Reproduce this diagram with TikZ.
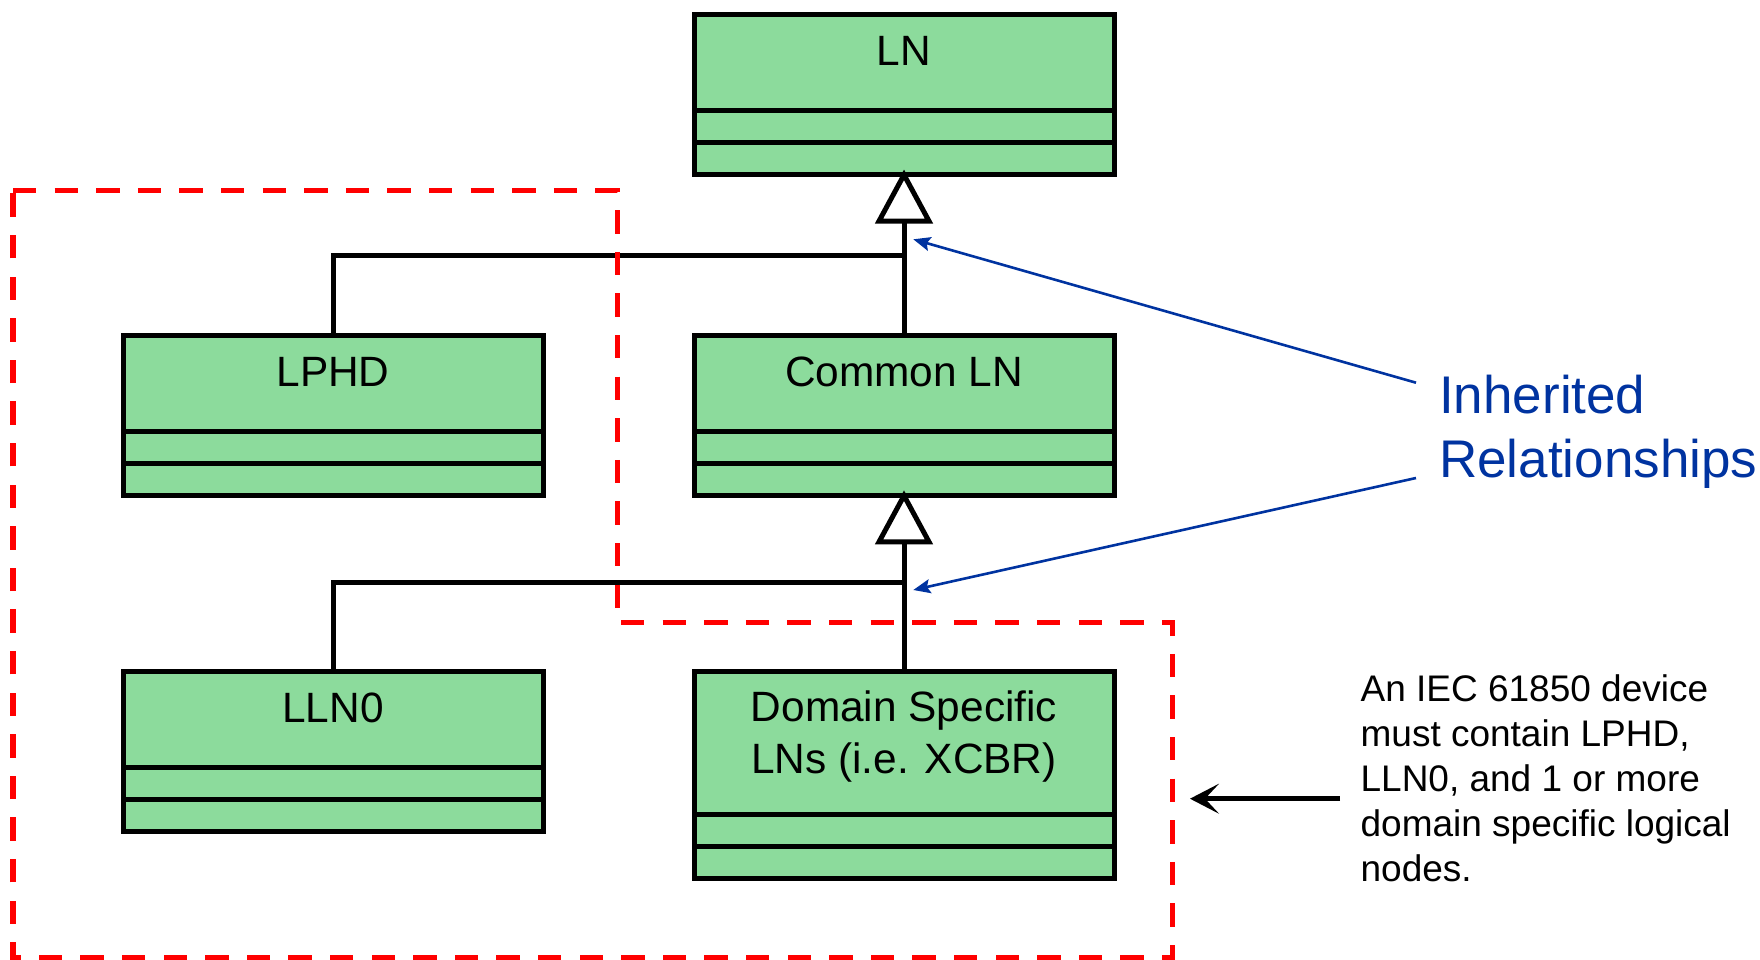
\documentclass[tikz,border=0pt]{standalone}
\usepackage{fontspec}
\setmainfont{Liberation Sans}
\usetikzlibrary{arrows.meta,calc}
\definecolor{clsgreen}{HTML}{8CDB9C}
\definecolor{irblue}{HTML}{0033A0}
\definecolor{dashred}{HTML}{FF0000}
\tikzset{
  clsbox/.style={draw=black, fill=clsgreen, line width=5pt, minimum width=420pt,
    inner sep=0pt, outer sep=0pt, anchor=north},
  divider/.style={line width=5pt},
  clstitle/.style={font=\fontsize{42.4}{52}\selectfont, align=center, inner sep=0pt},
  inherit/.style={line width=5pt, shorten >=-5pt,
    -{Triangle[open, length=54pt, width=57pt]}},
  branch/.style={line width=5pt, line join=miter},
  pointer/.style={draw=irblue, line width=2.6pt,
    -{Stealth[length=17pt, width=14pt, inset=3pt]}},
  device/.style={draw=dashred, line width=5.5pt, dash pattern=on 23.3pt off 18.3pt},
  notearrow/.style={line width=5.5pt, -{Stealth[length=29pt, width=30pt, inset=14pt]}},
  irlabel/.style={text=irblue, font=\fontsize{53}{64}\selectfont, align=left, inner sep=0pt},
  notetext/.style={font=\fontsize{37}{45}\selectfont, align=left, inner sep=0pt}
}
\newcommand\clsdividers[3]{%
  \draw[divider] ([yshift=-#2pt]#1.north west) -- ([yshift=-#2pt]#1.north east);
  \draw[divider] ([yshift=-#3pt]#1.north west) -- ([yshift=-#3pt]#1.north east);}
\begin{document}
\begin{tikzpicture}[x=1pt, y=-1pt]
\useasboundingbox (0,0) rectangle (1760,960);

% class boxes
\node[clsbox, minimum height=160pt] (LN) at (904,14.5) {};
\node[clsbox, minimum height=160pt] (LPHD) at (333,335.3) {};
\node[clsbox, minimum height=160pt] (Common) at (904,335.3) {};
\node[clsbox, minimum height=160pt] (LLN0) at (333,671) {};
\node[clsbox, minimum height=207pt] (Domain) at (904,671) {};

\clsdividers{LN}{96.5}{128.5}
\clsdividers{LPHD}{96}{128}
\clsdividers{Common}{96}{128}
\clsdividers{LLN0}{96}{128}
\clsdividers{Domain}{143}{175.5}

% titles
\node[clstitle, anchor=base] (LNt) at (904,65.7) {LN};
\node[clstitle, anchor=base] (LPHDt) at (333,386.3) {LPHD};
\node[clstitle, anchor=base] (Commont) at (904,386.3) {Common LN};
\node[clstitle, anchor=base] (LLN0t) at (333,722) {LLN0};
\node[clstitle, anchor=north] (Domaint) at (904,690.7) {Domain Specific\\LNs (i.e. XCBR)};

% inheritance connectors
\coordinate (j1) at (904,255);
\coordinate (j2) at (904,582.7);
\draw[inherit] (Common.north) -- (LN.south);
\draw[branch] (LPHD.north) |- (j1);
\draw[inherit] (Domain.north) -- (Common.south);
\draw[branch] (LLN0.north) |- (j2);

% blue label and pointers
\node[irlabel, anchor=north west] (ir) at (1439,374.5) {Inherited\\Relationships};
\coordinate (p1s) at (1416,382.7);
\coordinate (p1e) at (913.3,239.3);
\coordinate (p2s) at (1416,478);
\coordinate (p2e) at (913.3,590);
\draw[pointer] (p1s) -- (p1e);
\draw[pointer] (p2s) -- (p2e);

% device boundary
\draw[device] (13,190.7) -- (617.5,190.7) -- (617.5,622.7) -- (1172.3,622.7)
  -- (1172.3,958) -- (13,958) -- cycle;

% note
\node[notetext, anchor=north west] (note) at (1360.4,674.7)
  {An IEC 61850 device\\must contain LPHD,\\LLN0, and 1 or more\\domain specific logical\\nodes.};
\coordinate (n1) at (1340,798.7);
\coordinate (n2) at (1190,798.7);
\draw[notearrow] (n1) -- (n2);
\end{tikzpicture}
\end{document}
